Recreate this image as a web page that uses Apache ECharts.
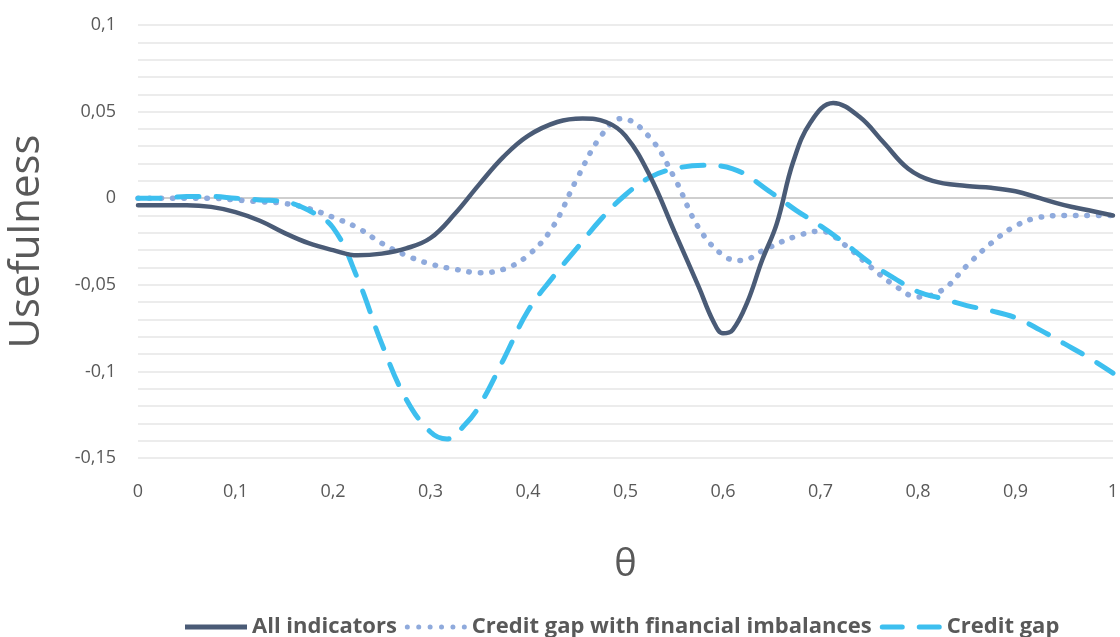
<!DOCTYPE html>
<html>
<head>
<meta charset="utf-8">
<script src="https://cdn.jsdelivr.net/npm/echarts@6/dist/echarts.min.js"></script>
<style>
  html, body { margin: 0; padding: 0; background: #fff; }
  #chart { width: 1120px; height: 637px; }
</style>
</head>
<body>
<div id="chart"></div>
<script>
// theta / usefulness points, one pair of arrays per series
const allTheta = [
  0, 0.025, 0.05, 0.075, 0.1, 0.125, 0.15, 0.175, 0.2, 0.225, 0.25, 0.275, 0.3, 0.325,
  0.35, 0.375, 0.4, 0.43, 0.456, 0.48, 0.5, 0.525, 0.55, 0.575, 0.59, 0.6, 0.61, 0.625,
  0.64, 0.655, 0.672, 0.69, 0.713, 0.74, 0.765, 0.79, 0.815, 0.85, 0.875, 0.9, 0.925,
  0.95, 0.975, 1
];
const allIndicators = [
  -0.004, -0.004, -0.004, -0.005, -0.008, -0.013, -0.020, -0.026, -0.030, -0.033,
  -0.032, -0.029, -0.023, -0.009, 0.008, 0.024, 0.036, 0.044, 0.046, 0.044,
  0.036, 0.013, -0.019, -0.051, -0.071, -0.078, -0.076, -0.060, -0.036, -0.015,
  0.021, 0.044, 0.055, 0.047, 0.032, 0.017, 0.010, 0.007, 0.006, 0.004, 0.000,
  -0.004, -0.007, -0.010
];
const finTheta = [
  0, 0.025, 0.05, 0.075, 0.1, 0.125, 0.15, 0.175, 0.2, 0.225, 0.25, 0.275, 0.3, 0.325,
  0.35, 0.375, 0.4, 0.425, 0.45, 0.475, 0.496, 0.525, 0.55, 0.575, 0.6, 0.618, 0.645,
  0.675, 0.7, 0.725, 0.75, 0.775, 0.8, 0.825, 0.85, 0.875, 0.9, 0.925, 0.95, 0.975, 1
];
const creditGapFin = [
  0, 0, 0, 0, -0.001, -0.002, -0.003, -0.006, -0.011, -0.017,
  -0.026, -0.033, -0.038, -0.041, -0.043, -0.041, -0.033, -0.017, 0.011, 0.036,
  0.046, 0.035, 0.012, -0.017, -0.033, -0.036, -0.029, -0.022, -0.019, -0.027,
  -0.039, -0.050, -0.057, -0.053, -0.039, -0.026, -0.016, -0.011, -0.010, -0.010, -0.010
];
const gapTheta = [
  0, 0.025, 0.05, 0.075, 0.1, 0.125, 0.15, 0.175, 0.2, 0.225, 0.25, 0.275, 0.3, 0.317,
  0.335, 0.35, 0.375, 0.4, 0.425, 0.45, 0.475, 0.5, 0.525, 0.55, 0.58, 0.61, 0.65,
  0.675, 0.7, 0.725, 0.75, 0.775, 0.8, 0.825, 0.85, 0.875, 0.9, 0.925, 0.95, 0.975, 1
];
const creditGap = [
  0, 0, 0.001, 0.001, 0, -0.001, -0.002, -0.007, -0.017, -0.046,
  -0.084, -0.116, -0.135, -0.139, -0.131, -0.120, -0.093, -0.065, -0.046, -0.029,
  -0.012, 0.002, 0.012, 0.017, 0.019, 0.017, 0.003, -0.007, -0.016, -0.026,
  -0.037, -0.046, -0.054, -0.058, -0.062, -0.065, -0.069, -0.076, -0.084, -0.092, -0.101
];
const seriesNames = ['All indicators', 'Credit gap with financial imbalances', 'Credit gap'];

const font = '"Open Sans", "Noto Sans", sans-serif';
const comma = v => String(+v.toFixed(2)).replace('.', ',');
const pairs = (xs, ys) => xs.map((t, i) => [t, ys[i]]);

// legend icons drawn as filled paths
const dot = x => `M${x},2.5a2.5,2.5 0 1,0 5,0a2.5,2.5 0 1,0 -5,0`;
const icons = {
  solid: 'path://M0,0H62V5H0Z',
  dotted: 'path://' + [0, 11.4, 22.8, 34.2, 45.6, 57].map(dot).join(''),
  dashed: 'path://M2.5,0H22.5A2.5,2.5 0 0 1 22.5,5H2.5A2.5,2.5 0 0 1 2.5,0Z' +
          'M39.5,0H59.5A2.5,2.5 0 0 1 59.5,5H39.5A2.5,2.5 0 0 1 39.5,0Z'
};

const chart = echarts.init(document.getElementById('chart'));
chart.setOption({
  animation: false,
  textStyle: { fontFamily: font },
  grid: { left: 138, right: 7, top: 25, bottom: 179, outerBoundsMode: 'none' },
  xAxis: {
    type: 'value', min: 0, max: 1, interval: 0.1,
    name: 'θ', nameLocation: 'middle', nameGap: 88,
    nameTextStyle: { fontSize: 38, color: '#595959', fontFamily: font },
    axisLine: { show: false }, axisTick: { show: false }, splitLine: { show: false },
    axisLabel: { fontSize: 18, color: '#595959', margin: 25, formatter: comma }
  },
  yAxis: {
    type: 'value', min: -0.15, max: 0.1, interval: 0.05,
    name: 'Usefulness', nameLocation: 'middle', nameGap: 90,
    nameTextStyle: { fontSize: 42, color: '#595959', fontFamily: font },
    axisLine: { show: false }, axisTick: { show: false },
    axisLabel: { fontSize: 18, color: '#595959', margin: 22, formatter: comma },
    splitLine: { lineStyle: { width: 2, color: ['#ececec', '#ececec', '#ececec', '#cfcfcf', '#ececec', '#ececec'] } },
    minorTick: { show: false, splitNumber: 5 },
    minorSplitLine: { show: true, lineStyle: { width: 2, color: '#ececec' } }
  },
  legend: {
    top: 611, left: 180, itemWidth: 62, itemHeight: 5, itemGap: 8,
    textStyle: { fontSize: 22, fontWeight: 'bold', color: '#595959', fontFamily: font },
    data: [
      { name: seriesNames[0], icon: icons.solid },
      { name: seriesNames[1], icon: icons.dotted },
      { name: seriesNames[2], icon: icons.dashed }
    ]
  },
  series: [
    {
      name: seriesNames[1], type: 'line', data: pairs(finTheta, creditGapFin), smooth: 0.4, symbol: 'none',
      lineStyle: { color: '#8FAADC', width: 5.5, type: [0.5, 11], cap: 'round' },
      itemStyle: { color: '#8FAADC' }
    },
    {
      name: seriesNames[2], type: 'line', data: pairs(gapTheta, creditGap), smooth: 0.4, symbol: 'none',
      lineStyle: { color: '#3DBFEF', width: 5, type: [22, 17], cap: 'round' },
      itemStyle: { color: '#3DBFEF' }
    },
    {
      name: seriesNames[0], type: 'line', data: pairs(allTheta, allIndicators), smooth: 0.4, symbol: 'none',
      lineStyle: { color: '#4A5B76', width: 4.5, cap: 'round' },
      itemStyle: { color: '#4A5B76' }
    }
  ]
});
</script>
</body>
</html>
